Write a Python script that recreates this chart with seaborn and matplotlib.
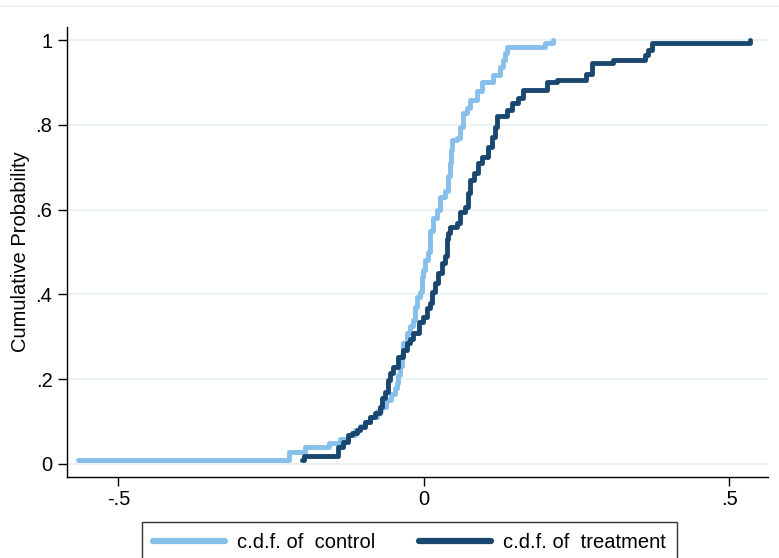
import numpy as np
import pandas as pd
import matplotlib
matplotlib.use("Agg")
import matplotlib.pyplot as plt
from matplotlib.lines import Line2D
import seaborn as sns

control_x = [-0.566, -0.221, -0.195, -0.155, -0.137, -0.124, -0.113, -0.105, -0.097,
             -0.088, -0.077, -0.070, -0.062, -0.054, -0.047, -0.044, -0.043, -0.039,
             -0.036, -0.034, -0.028, -0.023, -0.018, -0.015, -0.011, -0.007, -0.003,
             -0.002, 0.002, 0.007, 0.010, 0.015, 0.021, 0.026, 0.034, 0.039, 0.043,
             0.044, 0.046, 0.054, 0.059, 0.064, 0.070, 0.075, 0.087, 0.095, 0.113,
             0.124, 0.129, 0.133, 0.136, 0.198, 0.211]
control_cdf = [0.009, 0.028, 0.040, 0.050, 0.059, 0.068, 0.080, 0.090, 0.099,
               0.111, 0.125, 0.135, 0.150, 0.165, 0.180, 0.190, 0.210, 0.230,
               0.260, 0.285, 0.310, 0.325, 0.340, 0.370, 0.394, 0.406, 0.440,
               0.458, 0.480, 0.500, 0.550, 0.580, 0.600, 0.630, 0.645, 0.680, 0.710,
               0.740, 0.764, 0.770, 0.795, 0.828, 0.840, 0.858, 0.880, 0.900, 0.917,
               0.936, 0.953, 0.970, 0.983, 0.993, 1.000]

treatment_x = [-0.200, -0.197, -0.141, -0.133, -0.124, -0.118, -0.110, -0.105, -0.097,
               -0.088, -0.080, -0.072, -0.069, -0.064, -0.059, -0.056, -0.051, -0.043,
               -0.034, -0.028, -0.023, -0.018, -0.008, -0.002, 0.005, 0.010, 0.013,
               0.018, 0.023, 0.029, 0.034, 0.038, 0.039, 0.043, 0.054, 0.059, 0.067,
               0.072, 0.075, 0.082, 0.088, 0.095, 0.105, 0.111, 0.116, 0.119, 0.136,
               0.144, 0.154, 0.162, 0.201, 0.218, 0.265, 0.275, 0.309, 0.362, 0.367,
               0.373, 0.534]
treatment_cdf = [0.009, 0.019, 0.040, 0.052, 0.068, 0.073, 0.080, 0.087, 0.099,
                 0.111, 0.120, 0.134, 0.156, 0.170, 0.198, 0.215, 0.229, 0.252,
                 0.269, 0.285, 0.295, 0.309, 0.335, 0.347, 0.368, 0.380, 0.406,
                 0.427, 0.450, 0.474, 0.490, 0.530, 0.545, 0.559, 0.568, 0.595, 0.606,
                 0.640, 0.670, 0.686, 0.710, 0.724, 0.748, 0.771, 0.795, 0.820, 0.835,
                 0.851, 0.863, 0.882, 0.900, 0.906, 0.920, 0.946, 0.953, 0.965, 0.976,
                 0.993, 1.000]

series_labels = ["c.d.f. of  control", "c.d.f. of  treatment"]
y_ticks = [0, 0.2, 0.4, 0.6, 0.8, 1.0]
y_ticklabels = ["0", ".2", ".4", ".6", ".8", "1"]
x_ticks = [-0.5, 0, 0.5]
x_ticklabels = ["-.5", "0", ".5"]
y_title = "Cumulative Probability"

df = pd.concat([
    pd.DataFrame({"x": control_x, "cdf": control_cdf, "group": series_labels[0]}),
    pd.DataFrame({"x": treatment_x, "cdf": treatment_cdf, "group": series_labels[1]}),
], ignore_index=True)

# ---- style ----
sns.set_style("white")
plt.rcParams["font.family"] = ["Liberation Sans", "DejaVu Sans"]
plt.rcParams["text.color"] = "black"
plt.rcParams["axes.labelcolor"] = "black"
plt.rcParams["xtick.color"] = "black"
plt.rcParams["ytick.color"] = "black"

light = "#85BFEA"
navy = "#1A476F"
grid_c = "#EAF2F3"

fig = plt.figure(figsize=(7.79, 5.58), dpi=100)
ax = fig.add_axes([67 / 779, 1 - 477 / 558, 701 / 779, 450 / 558])

for yv in y_ticks:
    ax.axhline(yv, color=grid_c, lw=1.6, zorder=0)

sns.lineplot(data=df, x="x", y="cdf", hue="group",
             palette={series_labels[0]: light, series_labels[1]: navy},
             estimator=None, drawstyle="steps-post", linewidth=3.5,
             legend=False, ax=ax, zorder=3)
for ln in ax.lines:
    ln.set_solid_capstyle("round")
    ln.set_solid_joinstyle("round")

ax.set_xlim(-0.584, 0.563)
ax.set_ylim(-0.0307, 1.0307)
ax.set_xticks(x_ticks)
ax.set_xticklabels(x_ticklabels)
ax.set_yticks(y_ticks)
ax.set_yticklabels(y_ticklabels)
ax.set_xlabel("")
ax.set_ylabel(y_title, fontsize=14.5, labelpad=4, color="black")
ax.tick_params(axis="both", which="both", direction="out", length=6.5, width=1,
               color="black", labelcolor="black", labelsize=14.5,
               left=True, bottom=True, pad=3)
ax.tick_params(axis="y", pad=4)

for s in ["top", "right"]:
    ax.spines[s].set_visible(False)
for s in ["left", "bottom"]:
    ax.spines[s].set_color("black")
    ax.spines[s].set_linewidth(1.0)
ax.grid(False)

# faint line of the outer graph region at the top
fig.add_artist(Line2D([0, 1], [1 - 6 / 558, 1 - 6 / 558], transform=fig.transFigure,
                      color=grid_c, lw=1.2))

handles = [Line2D([0], [0], color=light, lw=4.5),
           Line2D([0], [0], color=navy, lw=4.5)]
leg = fig.legend(handles, series_labels, loc="upper left",
                 bbox_to_anchor=(142 / 779, 1 - 522 / 558), ncol=2,
                 frameon=True, fancybox=False, fontsize=14.5,
                 handlelength=3.55, handletextpad=0.6, columnspacing=2.2,
                 borderpad=0.55, borderaxespad=0)
leg.get_frame().set_edgecolor("black")
leg.get_frame().set_linewidth(1.0)
for t in leg.get_texts():
    t.set_color("black")

fig.savefig("out.png", dpi=100)
